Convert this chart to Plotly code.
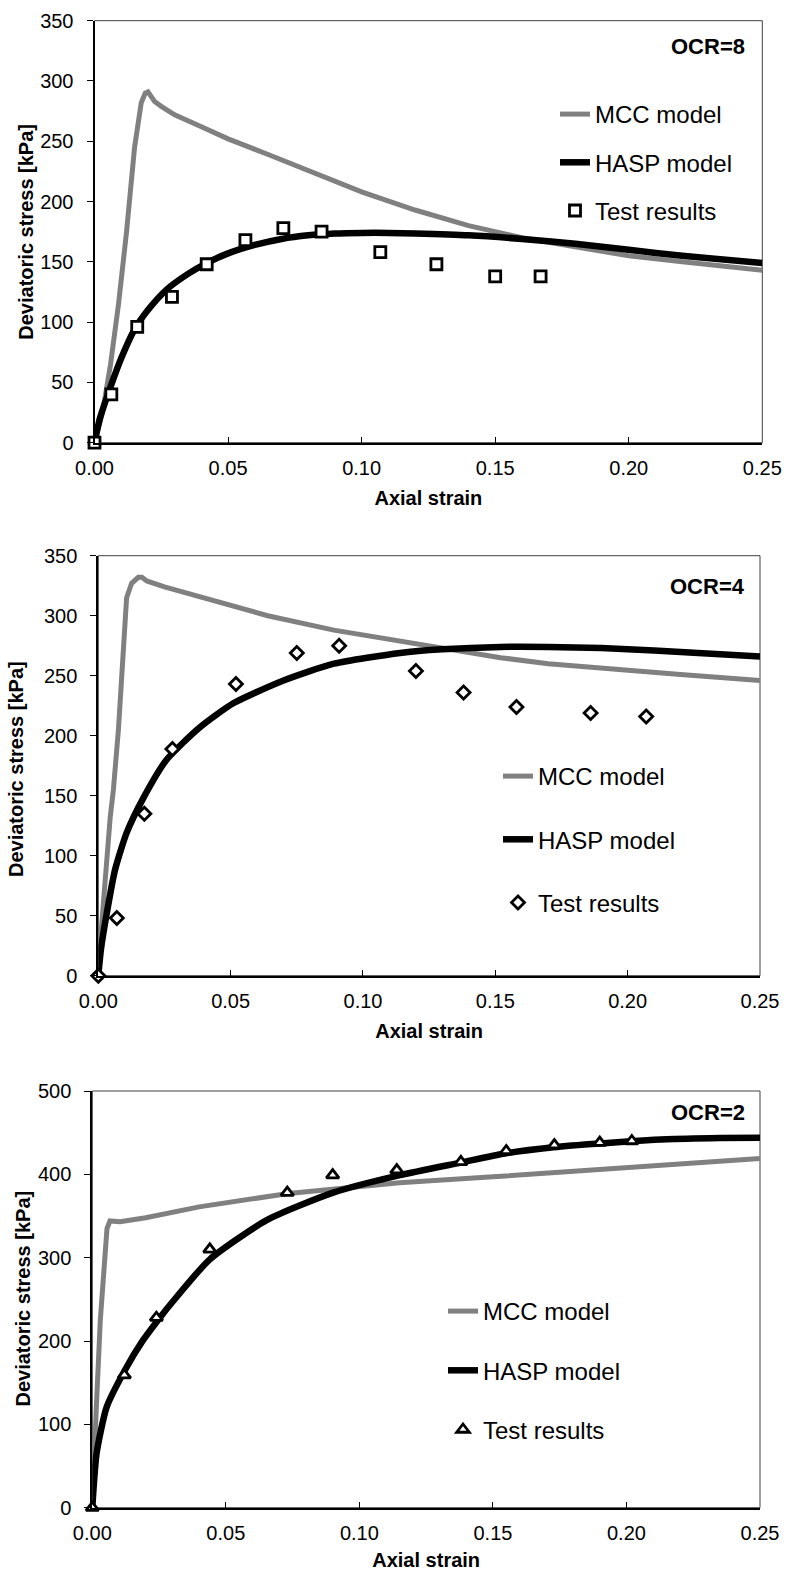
import plotly.graph_objects as go

W, H = 787, 1571
FONT = "Arial, Liberation Sans, sans-serif"

# ---------------- OCR = 8 ----------------
mcc8_x = [0, 0.003, 0.006, 0.009, 0.012, 0.015, 0.0175, 0.019, 0.020, 0.021, 0.0225, 0.025, 0.03, 0.04,
          0.05, 0.065, 0.08, 0.10, 0.12, 0.14, 0.16, 0.18, 0.20, 0.22, 0.25]
mcc8_y = [0, 25, 65, 115, 175, 245, 282, 290, 291, 288, 283, 279, 272, 262,
          252, 239, 226, 208, 193, 180, 170, 162, 155, 150, 143]
hasp8_x = [0, 0.002, 0.005, 0.01, 0.015, 0.02, 0.027, 0.035, 0.042, 0.05, 0.06, 0.07, 0.08, 0.09,
           0.10, 0.11, 0.12, 0.14, 0.16, 0.18, 0.20, 0.22, 0.25]
hasp8_y = [0, 20, 40, 70, 94, 110, 127, 140, 149, 157, 164, 169, 172, 173.5,
           174, 174, 173.5, 172, 169, 165, 160, 155, 149]
test8_x = [0, 0.0063, 0.016, 0.029, 0.042, 0.0565, 0.0707, 0.085, 0.107, 0.128, 0.150, 0.167]
test8_y = [0, 40, 96, 121, 148, 168, 178, 175, 158, 148, 138, 138]

# ---------------- OCR = 4 ----------------
mcc4_x = [0, 0.001, 0.0045, 0.0057, 0.0076, 0.0094, 0.0107, 0.0126, 0.0151, 0.0165, 0.0183, 0.025,
          0.038, 0.05, 0.064, 0.089, 0.114, 0.135, 0.152, 0.17, 0.19, 0.22, 0.25]
mcc4_y = [0, 35, 132, 155, 205, 274, 315, 327, 332, 332, 329, 324,
          316, 308, 300, 288, 279, 271, 265, 260, 256, 251, 246]
hasp4_x = [0, 0.001, 0.0032, 0.0063, 0.0107, 0.017, 0.0258, 0.0384, 0.051, 0.07, 0.089, 0.114,
           0.13, 0.152, 0.17, 0.19, 0.21, 0.23, 0.25]
hasp4_y = [0, 22, 52, 88, 119, 148, 180, 207, 227, 246, 260, 269,
           272, 274, 274, 273, 271, 268.5, 266]
test4_x = [0, 0.007, 0.0174, 0.028, 0.052, 0.075, 0.091, 0.120, 0.138, 0.158, 0.186, 0.207]
test4_y = [0, 48, 135, 189, 243, 269, 275, 254, 236, 224, 219, 216]

# ---------------- OCR = 2 ----------------
mcc2_x = [0, 0.0005, 0.0015, 0.003, 0.0045, 0.0055, 0.0066, 0.008, 0.0104, 0.02, 0.04, 0.0734,
          0.115, 0.15, 0.178, 0.21, 0.25]
mcc2_y = [0, 50, 120, 225, 300, 335, 344, 344, 343, 348, 361, 377,
          390, 397, 403, 410, 419]
hasp2_x = [0, 0.0016, 0.0054, 0.0122, 0.019, 0.0253, 0.0303, 0.044, 0.0653, 0.0902, 0.1152, 0.1378,
           0.1545, 0.1726, 0.19, 0.215, 0.235, 0.25]
hasp2_y = [0, 65, 121, 165, 201, 228, 248, 298, 345, 378, 399, 414,
           425, 432.5, 437, 442, 443.5, 444]
test2_x = [0, 0.012, 0.024, 0.044, 0.073, 0.090, 0.114, 0.138, 0.155, 0.173, 0.190, 0.202]
test2_y = [0, 159, 228, 310, 378, 399, 405, 415, 428, 435, 438, 440]

x_ticks = [0, 0.05, 0.10, 0.15, 0.20, 0.25]
x_ticklabels = ["0.00", "0.05", "0.10", "0.15", "0.20", "0.25"]

# layout boxes in page pixels: (left, right, top, bottom); legend: (x, y_top, group gap)
panels = [
    dict(label="OCR=8", mcc=(mcc8_x, mcc8_y), hasp=(hasp8_x, hasp8_y), test=(test8_x, test8_y),
         symbol="square", msize=11, ymax=350, dtick=50,
         box=(94.5, 762.3, 20.7, 442.7), legend=(555, 92, 14), ocr_y=47, ytitle=(26, 231.7)),
    dict(label="OCR=4", mcc=(mcc4_x, mcc4_y), hasp=(hasp4_x, hasp4_y), test=(test4_x, test4_y),
         symbol="diamond", msize=10, ymax=350, dtick=50,
         box=(98.3, 760, 555.7, 975.7), legend=(498, 754, 29), ocr_y=586, ytitle=(16, 769)),
    dict(label="OCR=2", mcc=(mcc2_x, mcc2_y), hasp=(hasp2_x, hasp2_y), test=(test2_x, test2_y),
         symbol="triangle-up", msize=11, ymax=500, dtick=100,
         box=(92.3, 760, 1091, 1507.7), legend=(443, 1289, 25), ocr_y=1112, ytitle=(22.5, 1299)),
]


def px(x):
    return x / W


def py(y):
    return 1 - y / H


fig = go.Figure()
shapes = []
annotations = []

for i, p in enumerate(panels, start=1):
    sfx = "" if i == 1 else str(i)
    xa, ya = "x" + sfx, "y" + sfx
    leg = "legend" + sfx
    fig.add_trace(go.Scatter(x=p["mcc"][0], y=p["mcc"][1], mode="lines", name="MCC model",
                             line=dict(color="#808080", width=5), xaxis=xa, yaxis=ya,
                             legend=leg, legendgroup="mcc%d" % i))
    fig.add_trace(go.Scatter(x=p["hasp"][0], y=p["hasp"][1], mode="lines", name="HASP model",
                             line=dict(color="black", width=6.5, shape="spline", smoothing=0.6),
                             xaxis=xa, yaxis=ya, legend=leg, legendgroup="hasp%d" % i))
    fig.add_trace(go.Scatter(x=p["test"][0], y=p["test"][1], mode="markers", name="Test results",
                             marker=dict(symbol=p["symbol"], size=p["msize"], color="white",
                                         line=dict(color="black", width=2.8)),
                             cliponaxis=False, xaxis=xa, yaxis=ya, legend=leg,
                             legendgroup="test%d" % i))

    x0, x1, y0, y1 = p["box"]
    fig.layout["xaxis" + sfx] = dict(
        domain=[px(x0), px(x1)], anchor=ya, range=[0, 0.25], tickvals=x_ticks, ticktext=x_ticklabels,
        ticks="inside", ticklen=6, tickcolor="black", tickwidth=1, automargin=False,
        showline=True, linecolor="black", linewidth=2, showgrid=False, zeroline=False,
        tickfont=dict(family=FONT, size=20, color="black"), ticklabelstandoff=6,
        title=dict(text="<b>Axial strain</b>", font=dict(family=FONT, size=20, color="black"),
                   standoff=13),
        fixedrange=True)
    fig.layout["yaxis" + sfx] = dict(
        domain=[py(y1), py(y0)], anchor=xa, range=[0, p["ymax"]], dtick=p["dtick"],
        ticks="outside", ticklen=6, tickcolor="black", tickwidth=1, automargin=False,
        showline=True, linecolor="black", linewidth=2, showgrid=False, zeroline=False,
        tickfont=dict(family=FONT, size=20, color="black"), ticklabelstandoff=9,
        fixedrange=True)
    shapes.append(dict(type="rect", xref=xa + " domain", yref=ya + " domain",
                       x0=0, x1=1, y0=0, y1=1, line=dict(color="#404040", width=1),
                       layer="below"))
    tx, ty = p["ytitle"]
    annotations.append(dict(text="<b>Deviatoric stress [kPa]</b>", xref="paper", yref="paper",
                            x=px(tx), y=py(ty), xanchor="center", yanchor="middle",
                            textangle=-90, showarrow=False,
                            font=dict(family=FONT, size=20, color="black")))
    annotations.append(dict(text="<b>%s</b>" % p["label"], xref="paper", yref="paper",
                            x=px(747), y=py(p["ocr_y"]), xanchor="right", yanchor="middle",
                            showarrow=False, font=dict(family=FONT, size=22, color="black")))
    lx, ly, gap = p["legend"]
    fig.layout[leg] = dict(x=px(lx), y=py(ly), xanchor="left", yanchor="top",
                           xref="paper", yref="paper", bgcolor="rgba(0,0,0,0)",
                           font=dict(family=FONT, size=24, color="black"),
                           tracegroupgap=gap, traceorder="grouped")

fig.update_layout(width=W, height=H, margin=dict(l=0, r=0, t=0, b=0, autoexpand=False),
                  paper_bgcolor="white", plot_bgcolor="white", hovermode=False,
                  shapes=shapes, annotations=annotations, showlegend=True)

fig.write_html("out.html", config={"displayModeBar": False},
               post_script="document.body.style.margin='0';document.body.style.overflow='hidden';")
